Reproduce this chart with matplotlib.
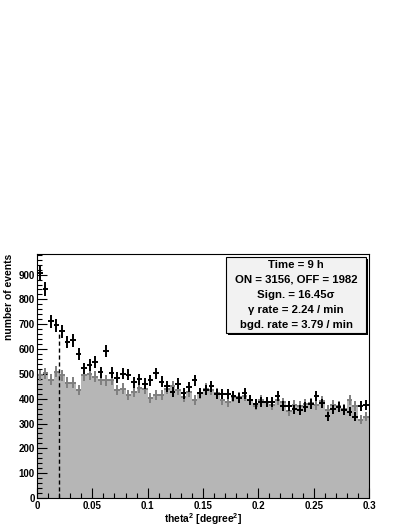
import numpy as np
import matplotlib.pyplot as plt
from matplotlib.patches import Rectangle

plt.rcParams['font.family'] = ['Liberation Sans', 'DejaVu Sans']
plt.rcParams['font.weight'] = 'bold'
plt.rcParams['axes.labelweight'] = 'bold'
plt.rcParams['mathtext.fontset'] = 'custom'
plt.rcParams['mathtext.rm'] = 'Liberation Sans:bold'
plt.rcParams['mathtext.bf'] = 'Liberation Sans:bold'
plt.rcParams['mathtext.default'] = 'bf'
plt.rcParams['hatch.color'] = '#9a9a9a'
plt.rcParams['hatch.linewidth'] = 0.4

# theta^2 histograms, 60 bins of 0.005 deg^2
edges = np.linspace(0, 0.3, 61)
on = [905, 843, 712, 696, 672, 629, 635, 582, 522, 535,
      548, 506, 594, 504, 484, 500, 497, 466, 478, 460,
      475, 503, 468, 450, 428, 461, 421, 448, 475, 422,
      434, 450, 418, 418, 418, 412, 401, 421, 394, 378,
      387, 387, 387, 410, 370, 370, 357, 354, 367, 378,
      410, 381, 330, 357, 367, 354, 347, 327, 370, 374]
off = [495, 502, 477, 508, 495, 465, 465, 434, 495, 498,
       488, 477, 475, 477, 434, 441, 414, 428, 445, 440,
       401, 414, 414, 440, 450, 434, 407, 428, 394, 421,
       441, 434, 421, 394, 387, 407, 405, 410, 394, 372,
       395, 385, 375, 395, 385, 350, 375, 370, 380, 382,
       375, 390, 355, 375, 370, 360, 395, 370, 315, 327]
cut = 0.02
cut_top = 660
info = ["Time = 9 h",
        "ON = 3156, OFF = 1982",
        "Sign. = 16.45\u03c3",
        "\u03b3 rate = 2.24 / min",
        "bgd. rate = 3.79 / min"]

on = np.array(on)
off = np.array(off)
centers = 0.5 * (edges[:-1] + edges[1:])
halfw = 0.5 * (edges[1] - edges[0])

fig = plt.figure(figsize=(4.07, 5.27), dpi=100)
ax = fig.add_axes([37/407, 1 - 498/527, 332/407, 244/527])

ax.stairs(off, edges, fill=True, facecolor='#b6b6b6', edgecolor='none',
          hatch='.......')
ax.errorbar(centers, off, xerr=halfw, yerr=np.sqrt(off), fmt='none',
            ecolor='#7f7f7f', elinewidth=1.4, capsize=0)
ax.errorbar(centers, on, xerr=halfw, yerr=np.sqrt(on), fmt='none',
            ecolor='black', elinewidth=1.4, capsize=0)
ax.plot([cut, cut], [0, cut_top], color='black', lw=1, ls=(0, (3, 2)))

ax.set_xlim(0, 0.3)
ax.set_ylim(0, 983)
ax.set_xticks([0, 0.05, 0.1, 0.15, 0.2, 0.25, 0.3])
ax.set_xticklabels(['0', '0.05', '0.1', '0.15', '0.2', '0.25', '0.3'])
ax.set_xticks(np.arange(0, 0.301, 0.01), minor=True)
ax.set_yticks(np.arange(0, 901, 100))
ax.set_yticks(np.arange(0, 981, 20), minor=True)
ax.tick_params(which='both', direction='in', top=False, right=False,
               labelsize=7, width=0.8)
ax.tick_params(which='major', length=7)
ax.tick_params(which='minor', length=3.5)
ax.tick_params(axis='x', pad=2)
ax.tick_params(axis='y', pad=1.5)
for lab in ax.get_xticklabels() + ax.get_yticklabels():
    lab.set_fontweight('bold')
for s in ax.spines.values():
    s.set_linewidth(0.8)

ax.set_xlabel(r'theta$^{2}$ [degree$^{2}$]', fontsize=7.4, fontweight='bold')
ax.xaxis.set_label_coords(0.5, -0.054)
ax.set_ylabel('number of events', fontsize=7.4, loc='top', labelpad=3,
              fontweight='bold')

# stats box with shadow
bx0, bx1 = 226/407, 366/407
by0, by1 = 1 - 333/527, 1 - 257/527
fig.patches.append(Rectangle((bx0 + 2/407, by0 - 2/527), bx1 - bx0, by1 - by0,
                             transform=fig.transFigure, facecolor='black',
                             edgecolor='none', zorder=5))
fig.patches.append(Rectangle((bx0, by0), bx1 - bx0, by1 - by0,
                             transform=fig.transFigure, facecolor='#f2f2f2',
                             edgecolor='black', lw=0.8, zorder=6))
for k, line in enumerate(info):
    fig.text((bx0 + bx1) / 2, 1 - (264.5 + 15.2 * k) / 527, line,
             ha='center', va='center', fontsize=8.2, fontweight='bold',
             zorder=7)

fig.savefig('out.png', dpi=100)
